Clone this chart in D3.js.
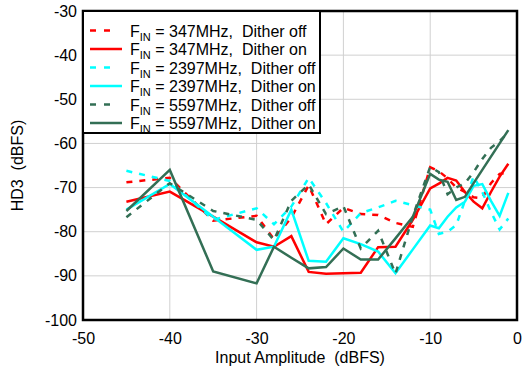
<!DOCTYPE html>
<html>
<head>
<meta charset="utf-8">
<script src="https://cdn.jsdelivr.net/npm/d3@7"></script>
<style>
  body { margin: 0; background: #fff; }
  text { font-family: "Liberation Sans", Arial, sans-serif; fill: #000; }
</style>
</head>
<body>
<svg id="chart" width="523" height="370"></svg>
<script>
// input amplitude (dBFS)
var amplitudes = [-45, -40, -35, -30, -28, -26, -24, -22, -20, -18, -16, -14, -12, -10, -9, -8, -7, -6, -5, -4, -3, -2, -1];

// HD3 (dBFS) per series
var hd3_347_off  = [-68.8, -67.8, -77.5, -76.4, -81.7, -76.8, -69.5, -78.3, -74.6, -76.0, -76.2, -78.0, -78.9, -65.4, -66.3, -67.9, -70.0, -71.0, -72.2, -72.4, -69.0, -66.9, -66.6];
var hd3_347_on   = [-73.2, -70.9, -76.6, -82.4, -83.4, -81.0, -89.1, -89.5, -89.4, -89.3, -83.5, -83.4, -77.3, -70.2, -69.1, -67.8, -68.4, -71.0, -73.2, -74.7, -71.0, -67.5, -64.6];
var hd3_2397_off = [-66.2, -68.5, -77.3, -74.7, -78.3, -74.3, -67.8, -73.5, -80.0, -75.8, -74.5, -73.0, -74.0, -75.0, -80.5, -80.0, -78.5, -73.0, -67.5, -71.0, -75.5, -79.5, -77.0];
var hd3_2397_on  = [-75.0, -69.2, -76.6, -84.1, -83.4, -75.0, -86.6, -86.8, -81.5, -82.8, -84.5, -89.4, -84.0, -78.6, -79.2, -76.6, -74.5, -73.2, -69.6, -69.2, -73.0, -76.4, -71.2];
var hd3_5597_off = [-76.7, -69.0, -75.3, -77.3, -81.9, -73.0, -69.3, -76.0, -74.2, -83.8, -79.8, -89.5, -76.5, -65.3, -66.5, -71.5, -70.0, -69.0, -66.5, -63.5, -61.0, -59.5, -57.5];
var hd3_5597_on  = [-75.3, -66.0, -89.0, -91.7, -83.4, -85.9, -88.3, -88.0, -83.8, -86.3, -86.3, -81.5, -76.6, -66.9, -68.2, -68.7, -72.8, -72.1, -69.0, -66.0, -63.0, -60.0, -57.0];

var seriesNames = ['347MHz,  Dither off', '347MHz,  Dither on', '2397MHz,  Dither off',
                   '2397MHz,  Dither on', '5597MHz,  Dither off', '5597MHz,  Dither on'];
var seriesValues = [hd3_347_off, hd3_347_on, hd3_2397_off, hd3_2397_on, hd3_5597_off, hd3_5597_on];
var seriesColors = ['#ff0000', '#ff0000', '#00ffff', '#00ffff', '#336f55', '#336f55'];
var seriesDashed = [true, false, true, false, true, false];

var xTicks = [-50, -40, -30, -20, -10, 0];
var yTicks = [-30, -40, -50, -60, -70, -80, -90, -100];

var svg = d3.select('#chart');
var plotLeft = 83, plotRight = 517, plotTop = 11, plotBottom = 320;

var x = d3.scaleLinear().domain([-50, 0]).range([plotLeft, plotRight]);
var y = d3.scaleLinear().domain([-100, -30]).range([plotBottom, plotTop]);

// grid
svg.append('g')
    .selectAll('line')
    .data(xTicks.slice(1, -1))
    .enter().append('line')
    .attr('x1', d => x(d)).attr('x2', d => x(d))
    .attr('y1', plotTop).attr('y2', plotBottom)
    .style('stroke', '#d0d0d0').style('stroke-width', 1);
svg.append('g')
    .selectAll('line')
    .data(yTicks.slice(1, -1))
    .enter().append('line')
    .attr('x1', plotLeft).attr('x2', plotRight)
    .attr('y1', d => y(d)).attr('y2', d => y(d))
    .style('stroke', '#d0d0d0').style('stroke-width', 1);

// axes (labels only)
var xAxis = d3.axisBottom(x).tickValues(xTicks).tickSize(0).tickPadding(13).tickFormat(d => String(d));
var gx = svg.append('g').attr('transform', 'translate(0,' + plotBottom + ')').call(xAxis);
gx.select('.domain').remove();
gx.selectAll('text').style('font-size', '16px').style('font-family', '"Liberation Sans", Arial, sans-serif');

var yAxis = d3.axisLeft(y).tickValues(yTicks).tickSize(0).tickPadding(6).tickFormat(d => String(d));
var gy = svg.append('g').attr('transform', 'translate(' + plotLeft + ',0)').call(yAxis);
gy.select('.domain').remove();
gy.selectAll('text').style('font-size', '16px').style('font-family', '"Liberation Sans", Arial, sans-serif');

// series
var line = d3.line()
    .x((d, i) => x(amplitudes[i]))
    .y(d => y(d));

seriesValues.forEach(function (vals, k) {
    svg.append('path')
        .datum(vals)
        .attr('d', line)
        .style('fill', 'none')
        .style('stroke', seriesColors[k])
        .style('stroke-width', 2.5)
        .style('stroke-dasharray', seriesDashed[k] ? '6,7' : null);
});

// frame
svg.append('rect')
    .attr('x', plotLeft).attr('y', plotTop)
    .attr('width', plotRight - plotLeft).attr('height', plotBottom - plotTop)
    .style('fill', 'none').style('stroke', '#000').style('stroke-width', 2.5);

// legend
var legend = svg.append('g');
legend.append('rect')
    .attr('x', plotLeft).attr('y', plotTop)
    .attr('width', 237).attr('height', 122)
    .style('fill', '#fff').style('stroke', '#000').style('stroke-width', 2);

seriesNames.forEach(function (name, k) {
    var cy = 30.5 + k * 18.5;
    legend.append('line')
        .attr('x1', 90).attr('x2', seriesDashed[k] ? 110 : 122)
        .attr('y1', cy).attr('y2', cy)
        .style('stroke', seriesColors[k])
        .style('stroke-width', 2.5)
        .style('stroke-dasharray', seriesDashed[k] ? '6,8' : null);
    var t = legend.append('text')
        .attr('x', 130).attr('y', cy + 6)
        .style('font-size', '16px')
        .style('white-space', 'pre');
    t.append('tspan').text('F');
    t.append('tspan').attr('dy', 4).style('font-size', '11px').text('IN');
    t.append('tspan').attr('dy', -4).text(' = ' + name);
});

// axis titles
svg.append('text')
    .attr('x', (plotLeft + plotRight) / 2).attr('y', 363)
    .attr('text-anchor', 'middle')
    .style('font-size', '16px')
    .style('white-space', 'pre')
    .text('Input Amplitude  (dBFS)');

svg.append('text')
    .attr('transform', 'translate(23,' + ((plotTop + plotBottom) / 2) + ') rotate(-90)')
    .attr('text-anchor', 'middle')
    .style('font-size', '16px')
    .style('white-space', 'pre')
    .text('HD3  (dBFS)');
</script>
</body>
</html>
